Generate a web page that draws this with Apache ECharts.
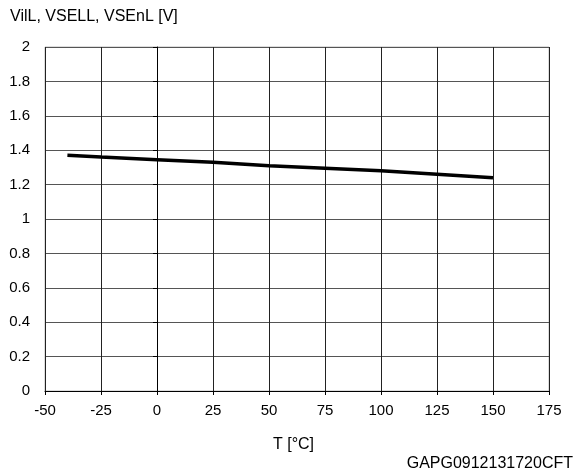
<!DOCTYPE html>
<html><head><meta charset="utf-8">
<script src="https://cdn.jsdelivr.net/npm/echarts@6/dist/echarts.min.js"></script>
<style>html,body{margin:0;padding:0;background:#fff}#c{width:575px;height:476px}</style>
</head><body><div id="c"></div>
<script>
const temps = [-40, -25, 0, 25, 50, 75, 100, 125, 150];
const volts = [1.37, 1.36, 1.345, 1.33, 1.31, 1.295, 1.28, 1.26, 1.24];
const yName = 'VilL, VSELL, VSEnL [V]';
const xName = 'T [°C]';
const codeLabel = 'GAPG0912131720CFT';
const font = 'Liberation Sans, Arial, sans-serif';
const chart = echarts.init(document.getElementById('c'));
chart.setOption({
  animation: false,
  grid: {left: 45, right: 26, top: 47, bottom: 85, show: true, borderColor: '#bbb', borderWidth: 1},
  graphic: [
    {type: 'text', left: 10, top: 9, style: {text: yName, font: '16px ' + font, fill: '#000'}},
    {type: 'text', left: 273, top: 437, style: {text: xName, font: '16px ' + font, fill: '#000'}},
    {type: 'text', right: 2, top: 456, style: {text: codeLabel, font: '16px ' + font, fill: '#000'}}
  ],
  xAxis: {
    type: 'value', min: -50, max: 175, interval: 25,
    axisLine: {show: true, onZero: false, lineStyle: {color: '#000', width: 1}},
    axisTick: {show: true, length: 4, lineStyle: {color: '#000'}},
    axisLabel: {color: '#000', fontFamily: font, fontSize: 15, margin: 12},
    splitLine: {show: true, lineStyle: {color: '#222', width: 1}}
  },
  yAxis: {
    type: 'value', min: 0, max: 2, interval: 0.2,
    axisLine: {show: true, lineStyle: {color: '#000', width: 1}},
    axisTick: {show: true, length: 4, lineStyle: {color: '#000'}},
    axisLabel: {color: '#000', fontFamily: font, fontSize: 15, margin: 15,
      formatter: v => String(Math.round(v * 10) / 10)},
    splitLine: {show: true, lineStyle: {color: '#555', width: 1}}
  },
  series: [{
    type: 'line', data: temps.map((t, i) => [t, volts[i]]),
    symbol: 'none', lineStyle: {color: '#000', width: 3.5}
  }]
});
</script></body></html>
